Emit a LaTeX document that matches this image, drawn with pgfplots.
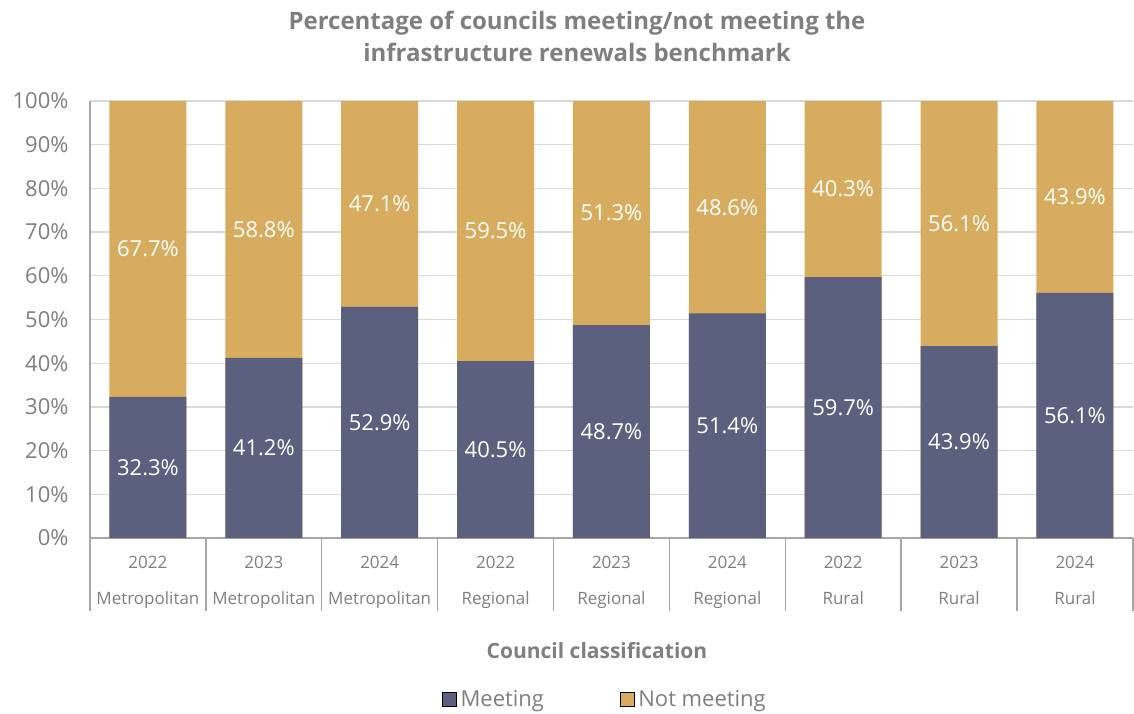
\documentclass[border=0pt]{standalone}
\usepackage{fontspec}
\setmainfont{Open Sans}
\usepackage{pgfplots}
\usepackage{pgfplotstable}
\pgfplotsset{compat=1.18}
\definecolor{meet}{HTML}{5A607D}
\definecolor{notmeet}{HTML}{D8AC5E}
\definecolor{txt}{HTML}{7F7F7F}
\definecolor{gridc}{HTML}{D9D9D9}
\definecolor{axc}{HTML}{A6A6A6}
\pgfplotstableread{
x m n
0 32.3 67.7
1 41.2 58.8
2 52.9 47.1
3 40.5 59.5
4 48.7 51.3
5 51.4 48.6
6 59.7 40.3
7 43.9 56.1
8 56.1 43.9
}\data
\begin{document}
\begin{tikzpicture}
\begin{axis}[
 scale only axis, width=1043pt, height=437pt,
 xmin=-0.5, xmax=8.5, ymin=0, ymax=100,
 axis lines*=left, axis line style={draw=axc, line width=1.3pt, -},
 ytick={0,10,...,100}, yticklabel={\pgfmathprintnumber{\tick}\%},
 /pgf/number format/assume math mode=true,
 yticklabel style={font=\fontsize{22}{26}\selectfont, text=txt, xshift=-18pt},
 ymajorgrids, grid style={draw=gridc, line width=1.3pt},
 xtick={0,...,8},
 xticklabels={{2022\\Metropolitan},{2023\\Metropolitan},{2024\\Metropolitan},{2022\\Regional},{2023\\Regional},{2024\\Regional},{2022\\Rural},{2023\\Rural},{2024\\Rural}},
 xticklabel style={font=\fontsize{17}{36}\selectfont, text=txt, align=center, anchor=north, yshift=-15pt},
 major tick length=0pt,
 tick style={draw=axc, line width=1.3pt},
 extra x ticks={-0.5,0.5,1.5,2.5,3.5,4.5,5.5,6.5,7.5,8.5}, extra x tick labels={},
 extra x tick style={major tick length=73pt, tick align=outside, grid=none},
 clip=false,
 legend image code/.code={\fill[#1] (0pt,-7pt) rectangle (14pt,7pt);},
 legend columns=2,
 legend style={at={(0.4938,-0.3684)}, anchor=center, draw=none, fill=none,
   font=\fontsize{22}{26}\selectfont, text=txt,
   /tikz/every odd column/.append style={column sep=2pt},
   /tikz/every even column/.append style={column sep=74pt}},
]
\addlegendimage{fill=meet}
\addlegendentry{Meeting}
\addlegendimage{fill=notmeet}
\addlegendentry{Not meeting}
\addplot[ybar, bar width=77pt, bar shift=0pt, fill=notmeet, draw=none, forget plot]
  table[x=x, y expr=\thisrow{m}+\thisrow{n}] {\data};
\addplot[ybar, bar width=77pt, bar shift=0pt, fill=meet, draw=none, forget plot]
  table[x=x, y=m] {\data};
\addplot[draw=none, mark=none, forget plot, nodes near coords={\pgfplotspointmeta\%},
  point meta=explicit symbolic,
  every node near coord/.append style={anchor=center, text=white, font=\fontsize{22}{26}\selectfont}]
  table[x=x, y expr=\thisrow{m}/2, meta=m] {\data};
\addplot[draw=none, mark=none, forget plot, nodes near coords={\pgfplotspointmeta\%},
  point meta=explicit symbolic,
  every node near coord/.append style={anchor=center, text=white, font=\fontsize{22}{26}\selectfont}]
  table[x=x, y expr=\thisrow{m}+\thisrow{n}/2, meta=n] {\data};
\end{axis}
\node[font=\bfseries\fontsize{24}{32}\selectfont, text=txt, align=center] at (487pt,502pt)
  {Percentage of councils meeting/not meeting the\\infrastructure renewals benchmark};
\node[font=\bfseries\fontsize{21}{24}\selectfont, text=txt] at (507pt,-113pt) {Council classification};
\pgfresetboundingbox
\path[use as bounding box] (-90pt,-175pt) rectangle (1044pt,538pt);
\end{tikzpicture}
\end{document}
